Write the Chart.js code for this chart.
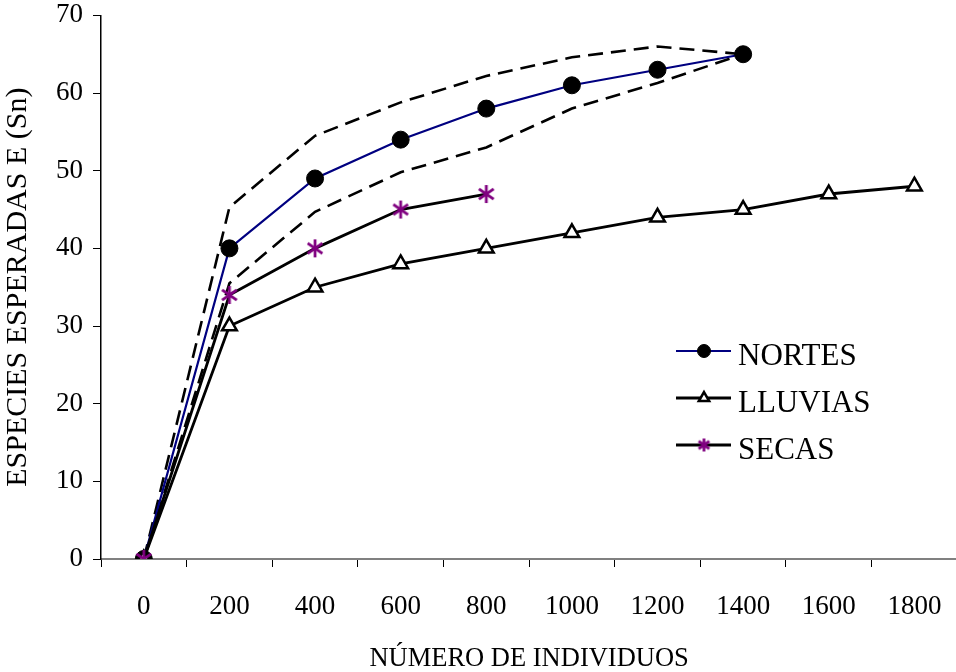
<!DOCTYPE html>
<html lang="es">
<head>
    <meta charset="UTF-8">
    <title>Especies esperadas</title>
    <script src="https://cdn.jsdelivr.net/npm/chart.js@4.4.1/dist/chart.umd.min.js"></script>
    <style>
        html, body { margin: 0; padding: 0; overflow: hidden; background: #fff; }
        #wrap { width: 970px; height: 672px; }
    </style>
</head>
<body>
    <div id="wrap"><canvas id="especiesChart" width="970" height="672"></canvas></div>
    <script>
        const individuos = ['0', '200', '400', '600', '800', '1000', '1200', '1400', '1600', '1800'];
        const nortes = [0, 40, 49, 54, 58, 61, 63, 65, null, null];
        const lluvias = [0, 30, 35, 38, 40, 42, 44, 45, 47, 48];
        const secas = [0, 34, 40, 45, 47, null, null, null, null, null];
        const nortesSuperior = [0, 45.3, 54.5, 58.8, 62.2, 64.6, 66, 65, null, null];
        const nortesInferior = [0, 35.5, 44.7, 49.8, 53, 58, 61.3, 65, null, null];

        const FONT = 'Liberation Serif';

        // asterisk marker: vertical stroke plus two diagonals
        function makeAsterisk(color, size) {
            const c = document.createElement('canvas');
            c.width = size; c.height = size;
            const g = c.getContext('2d');
            const m = size / 2, arm = size / 2 - 2;
            g.strokeStyle = color;
            g.lineWidth = 2.8;
            [90, 35, 145].forEach(a => {
                const r = a * Math.PI / 180;
                const dx = Math.cos(r) * arm, dy = Math.sin(r) * arm;
                g.beginPath();
                g.moveTo(m - dx, m - dy);
                g.lineTo(m + dx, m + dy);
                g.stroke();
            });
            return c;
        }
        const asterisk = makeAsterisk('#800080', 22);
        const asteriskSmall = makeAsterisk('#800080', 17);

        // legend with line + marker, like the spreadsheet original
        const lineLegend = {
            id: 'lineLegend',
            afterDraw(chart) {
                const ctx = chart.ctx;
                const items = chart.data.datasets
                    .filter(d => d.legendPos !== undefined)
                    .sort((a, b) => a.legendPos - b.legendPos);
                ctx.save();
                items.forEach((ds, i) => {
                    const y = 351 + i * 47;
                    ctx.strokeStyle = ds.borderColor;
                    ctx.lineWidth = ds.borderWidth;
                    ctx.setLineDash([]);
                    ctx.beginPath();
                    ctx.moveTo(676, y);
                    ctx.lineTo(731, y);
                    ctx.stroke();
                    ctx.fillStyle = ds.pointBackgroundColor || '#000';
                    ctx.strokeStyle = ds.pointBorderColor || '#000';
                    ctx.lineWidth = ds.pointBorderWidth || 1;
                    Chart.helpers.drawPoint(ctx, {
                        pointStyle: ds.legendStyle || ds.pointStyle,
                        radius: ds.legendRadius,
                        borderWidth: ds.pointBorderWidth || 1
                    }, 704, y);
                    ctx.font = '31px "' + FONT + '"';
                    ctx.fillStyle = '#000';
                    ctx.textBaseline = 'middle';
                    ctx.textAlign = 'left';
                    ctx.fillText(ds.label, 738, y + 6);
                });
                ctx.restore();
            }
        };

        const ctx = document.getElementById('especiesChart').getContext('2d');
        new Chart(ctx, {
            type: 'line',
            data: {
                labels: individuos,
                datasets: [
                    {
                        label: 'SECAS',
                        data: secas,
                        legendPos: 2,
                        borderColor: '#000000',
                        borderWidth: 2.8,
                        pointStyle: asterisk,
                        legendStyle: asteriskSmall,
                        pointRadius: 10,
                        legendRadius: 8,
                        order: 0
                    },
                    {
                        label: 'NORTES',
                        data: nortes,
                        legendPos: 0,
                        borderColor: '#000080',
                        borderWidth: 2.2,
                        pointStyle: 'circle',
                        pointRadius: 8.5,
                        legendRadius: 6.5,
                        pointBackgroundColor: '#000000',
                        pointBorderColor: '#000000',
                        pointBorderWidth: 1,
                        order: 2
                    },
                    {
                        label: 'LLUVIAS',
                        data: lluvias,
                        legendPos: 1,
                        borderColor: '#000000',
                        borderWidth: 2.8,
                        pointStyle: 'triangle',
                        pointRadius: 8.5,
                        legendRadius: 6,
                        pointBackgroundColor: '#ffffff',
                        pointBorderColor: '#000000',
                        pointBorderWidth: 2.5,
                        order: 1
                    },
                    {
                        label: 'superior',
                        data: nortesSuperior,
                        borderColor: '#000000',
                        borderWidth: 2.6,
                        borderDash: [15, 8],
                        pointRadius: 0,
                        order: 3
                    },
                    {
                        label: 'inferior',
                        data: nortesInferior,
                        borderColor: '#000000',
                        borderWidth: 2.6,
                        borderDash: [15, 8],
                        pointRadius: 0,
                        order: 3
                    }
                ]
            },
            options: {
                responsive: false,
                animation: false,
                layout: { padding: { left: 0, right: 7, top: 0, bottom: 0 } },
                plugins: {
                    legend: { display: false },
                    tooltip: { enabled: false }
                },
                scales: {
                    x: {
                        type: 'category',
                        offset: true,
                        grid: {
                            offset: true,
                            drawOnChartArea: false,
                            color: '#000000',
                            tickLength: 8,
                            lineWidth: 1
                        },
                        border: { color: '#808080', width: 2 },
                        ticks: {
                            color: '#000000',
                            font: { family: FONT, size: 27 },
                            padding: 24,
                            maxRotation: 0,
                            autoSkip: false
                        },
                        title: {
                            display: true,
                            text: 'NÚMERO DE INDIVIDUOS',
                            color: '#000000',
                            font: { family: FONT, size: 26.5, lineHeight: 1 },
                            padding: { top: 0, bottom: 0 }
                        },
                        afterFit(scale) { scale.height = 113; }
                    },
                    y: {
                        min: 0,
                        max: 70,
                        grid: {
                            drawOnChartArea: false,
                            color: '#000000',
                            tickLength: 8,
                            lineWidth: 1
                        },
                        border: { color: '#000000', width: 1.5 },
                        ticks: {
                            stepSize: 10,
                            color: '#000000',
                            font: { family: FONT, size: 27, lineHeight: 0.4 },
                            padding: 10
                        },
                        title: {
                            display: true,
                            text: 'ESPECIES ESPERADAS E (Sn)',
                            color: '#000000',
                            font: { family: FONT, size: 30, lineHeight: 1 },
                            padding: { top: 3, bottom: 0 }
                        },
                        afterFit(scale) { scale.width = 101; }
                    }
                }
            },
            plugins: [lineLegend]
        });
    </script>
</body>
</html>
